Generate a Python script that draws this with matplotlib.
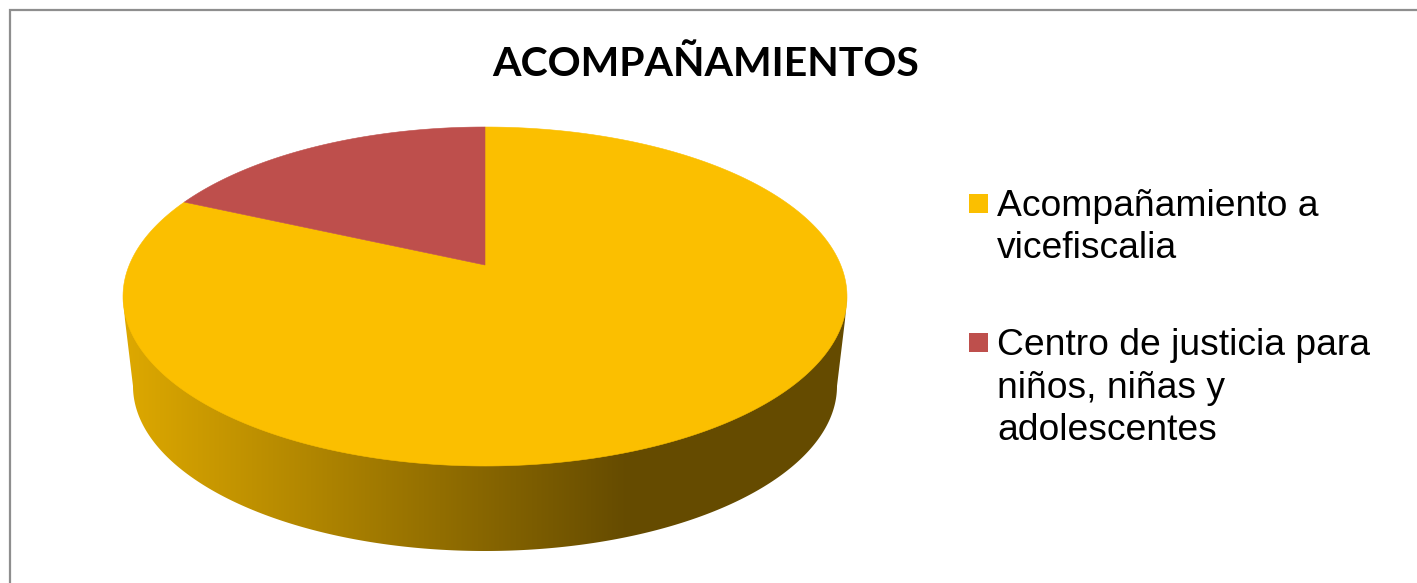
import numpy as np
import matplotlib
matplotlib.use("Agg")
import matplotlib.pyplot as plt
from matplotlib.patches import Polygon, Rectangle

# Datos
title = "ACOMPAÑAMIENTOS"
labels = ["Acompañamiento a\nvicefiscalia", "Centro de justicia para\nniños, niñas y\nadolescentes"]
values = [84.4, 15.6]
colors = ["#FBBF00", "#BE4F4C"]

W, H = 1417, 583
fig = plt.figure(figsize=(W / 100, H / 100), dpi=100)
ax = fig.add_axes([0, 0, 1, 1])
ax.set_xlim(0, W)
ax.set_ylim(H, 0)
ax.axis("off")

# Marco
ax.plot([10, 10, W], [H, 9.5, 9.5], color="#8E8E8E", lw=1.6, solid_joinstyle="miter")


def arc(cx, cy, rx, ry, a0, a1, n=300):
    # angulos desde arriba en sentido horario
    t = np.radians(np.linspace(a0, a1, n))
    return np.column_stack([cx + rx * np.sin(t), cy - ry * np.cos(t)])


# Pared lateral con degradado
cx, cy, rx, ry = 485, 296.5, 362, 169.5
low = arc(cx, 386, 352, 165, 90, 270)
side = np.vstack([[[cx + rx, cy]], [[cx + rx - 2, 320]], low, [[cx - rx + 2, 320]], [[cx - rx, cy]]])
patch = Polygon(side, closed=True, facecolor="none", edgecolor="none")
ax.add_patch(patch)

xs = np.linspace(0, 1, 724)
stops_x = [0.0, 0.70, 1.0]
r = np.interp(xs, stops_x, [0xDE, 0x65, 0x65])
g = np.interp(xs, stops_x, [0xA9, 0x4B, 0x4B])
b = np.zeros_like(xs)
grad = np.dstack([r, g, b]).astype(np.uint8)
im = ax.imshow(grad, extent=[123, 847, 551, 296], aspect="auto", interpolation="bilinear", zorder=1)
im.set_clip_path(patch)
ax.set_xlim(0, W)
ax.set_ylim(H, 0)

# Cara superior
apex = (485, 265)
fracs = np.array(values) / sum(values)
start = 0.0
for frac, color in zip(fracs, colors):
    end = start + frac * 360
    pts = np.vstack([[apex], arc(cx, cy, rx, ry, start, end)])
    ax.add_patch(Polygon(pts, closed=True, facecolor=color, edgecolor=color, lw=0.4, zorder=2))
    start = end

# Titulo
ax.text(706, 76, title, fontsize=29.5, fontweight="bold", family="Lato", ha="center", va="baseline", color="black")

# Leyenda
leg_y = [194, 333]
for lab, color, y in zip(labels, colors, leg_y):
    ax.add_patch(Rectangle((969, y), 19, 19, facecolor=color, edgecolor="none"))
    ax.text(997, y + 22, lab.split("\n")[0], fontsize=26.8, family="Liberation Sans", va="baseline", color="black")
    for i, part in enumerate(lab.split("\n")[1:], start=1):
        ax.text(997, y + 22 + i * 42.5, part, fontsize=26.8, family="Liberation Sans", va="baseline", color="black")

fig.savefig("out.png", dpi=100, facecolor="white")
